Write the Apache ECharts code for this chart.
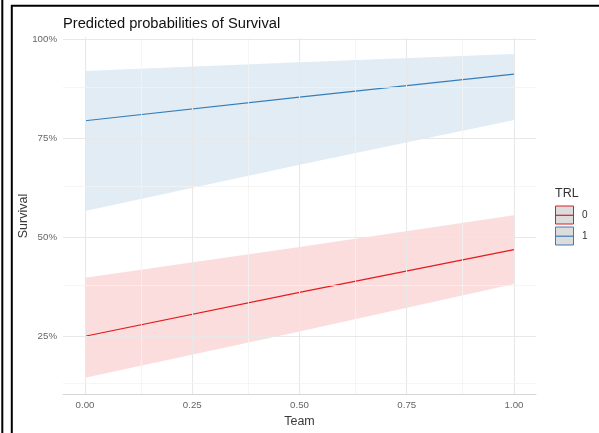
<!DOCTYPE html>
<html>
<head>
<meta charset="utf-8">
<script src="https://cdn.jsdelivr.net/npm/echarts@6/dist/echarts.min.js"></script>
<style>
  html, body { margin: 0; padding: 0; background: #fff; }
</style>
</head>
<body>
<div id="main" style="width: 599px;height:433px;"></div>
<script type="text/javascript">
    // values
    var team = [0, 0.5, 1];
    var fit0 = [0.250, 0.361, 0.469];
    var low0 = [0.145, 0.262, 0.382];
    var high0 = [0.398, 0.476, 0.556];
    var fit1 = [0.795, 0.855, 0.913];
    var low1 = [0.567, 0.684, 0.797];
    var high1 = [0.921, 0.943, 0.964];
    var xTicks = [0, 0.25, 0.5, 0.75, 1];
    var yTicks = [0.25, 0.5, 0.75, 1];
    var xMinor = [0.125, 0.375, 0.625, 0.875];
    var yMinor = [0.125, 0.375, 0.625, 0.875];

    var red = '#E41A1C', blue = '#377EB8';
    var font = '"Liberation Sans", Arial, sans-serif';

    function pairs(a) {
        return team.map(function (t, i) { return [t, a[i]]; });
    }
    // ribbon between lo and hi, drawn through the axes
    function ribbon(lo, hi, fill) {
        return {
            type: 'custom', z: 1, silent: true,
            data: [[team[0], lo[0]]],
            renderItem: function (params, api) {
                var pts = [];
                for (var i = 0; i < team.length; i++) pts.push(api.coord([team[i], hi[i]]));
                for (var j = team.length - 1; j >= 0; j--) pts.push(api.coord([team[j], lo[j]]));
                return { type: 'polygon', shape: { points: pts }, style: { fill: fill } };
            }
        };
    }

    var gridLines = [];
    xTicks.forEach(function (v) { gridLines.push({ xAxis: v, lineStyle: { color: '#e8e8e8', width: 1.1, type: 'solid' } }); });
    xMinor.forEach(function (v) { gridLines.push({ xAxis: v, lineStyle: { color: '#f3f3f3', width: 0.8, type: 'solid' } }); });
    yTicks.forEach(function (v) { gridLines.push({ yAxis: v, lineStyle: { color: '#e8e8e8', width: 1.1, type: 'solid' } }); });
    yMinor.forEach(function (v) { gridLines.push({ yAxis: v, lineStyle: { color: '#f3f3f3', width: 0.8, type: 'solid' } }); });

    var myChart = echarts.init(document.getElementById('main'));
    var option = {
        animation: false,
        backgroundColor: '#fff',
        title: {
            text: 'Predicted probabilities of Survival',
            left: 63, top: 16, padding: 0,
            textStyle: { fontFamily: font, fontSize: 14.7, fontWeight: 'normal', color: '#111' }
        },
        grid: { left: 63, right: 63, top: 38, bottom: 39 },
        xAxis: {
            type: 'value', min: -0.0513, max: 1.0513,
            name: 'Team', nameLocation: 'middle', nameGap: 21, nameMoveOverlap: false,
            nameTextStyle: { fontFamily: font, fontSize: 12.5, color: '#3a3a3a' },
            axisLine: { show: true, lineStyle: { color: '#d6d6d6', width: 1 } },
            axisTick: { show: false },
            splitLine: { show: false },
            axisLabel: {
                customValues: xTicks, margin: 6,
                fontFamily: font, fontSize: 9.7, color: '#666',
                formatter: function (v) { return v.toFixed(2); }
            }
        },
        yAxis: {
            type: 'value', min: 0.104, max: 1.0043,
            name: 'Survival', nameLocation: 'middle', nameGap: 33, nameMoveOverlap: false,
            nameTextStyle: { fontFamily: font, fontSize: 12.5, color: '#3a3a3a' },
            axisLine: { show: true, lineStyle: { color: '#d6d6d6', width: 1 } },
            axisTick: { show: false },
            splitLine: { show: false },
            axisLabel: {
                customValues: yTicks, margin: 6,
                fontFamily: font, fontSize: 9.7, color: '#666',
                formatter: function (v) { return Math.round(v * 100) + '%'; }
            }
        },
        series: [
            {
                name: 'grid', type: 'line', data: pairs(fit0), z: 0,
                symbol: 'none', lineStyle: { opacity: 0 }, silent: true,
                markLine: { silent: true, symbol: 'none', label: { show: false }, data: gridLines }
            },
            ribbon(low0, high0, 'rgba(228,26,28,0.15)'),
            ribbon(low1, high1, 'rgba(55,126,184,0.15)'),
            {
                name: '0', type: 'line', data: pairs(fit0), z: 3,
                symbol: 'none', lineStyle: { color: red, width: 1.2 }
            },
            {
                name: '1', type: 'line', data: pairs(fit1), z: 3,
                symbol: 'none', lineStyle: { color: blue, width: 1.2 }
            }
        ],
        graphic: [
            // screenshot frame lines
            { type: 'line', shape: { x1: 2.3, y1: 0, x2: 2.3, y2: 433 }, style: { stroke: '#000', lineWidth: 2 } },
            { type: 'line', shape: { x1: 11.8, y1: 5, x2: 11.8, y2: 433 }, style: { stroke: '#000', lineWidth: 2 } },
            { type: 'line', shape: { x1: 11, y1: 5.8, x2: 599, y2: 5.8 }, style: { stroke: '#000', lineWidth: 2 } },
            // legend
            { type: 'text', left: 555, top: 187, style: { text: 'TRL', font: '12.5px ' + font, fill: '#333' } },
            { type: 'rect', shape: { x: 555.5, y: 206, width: 18, height: 18 }, style: { fill: '#dcdcdc', stroke: red, lineWidth: 1 } },
            { type: 'line', shape: { x1: 556, y1: 215.3, x2: 573, y2: 215.3 }, style: { stroke: red, lineWidth: 1.2 } },
            { type: 'rect', shape: { x: 555.5, y: 227, width: 18, height: 18 }, style: { fill: '#dcdcdc', stroke: blue, lineWidth: 1 } },
            { type: 'line', shape: { x1: 556, y1: 236.2, x2: 573, y2: 236.2 }, style: { stroke: blue, lineWidth: 1.2 } },
            { type: 'text', left: 582, top: 210, style: { text: '0', font: '10px ' + font, fill: '#333' } },
            { type: 'text', left: 582, top: 231, style: { text: '1', font: '10px ' + font, fill: '#333' } }
        ]
    };
    myChart.setOption(option);
</script>
</body>
</html>
